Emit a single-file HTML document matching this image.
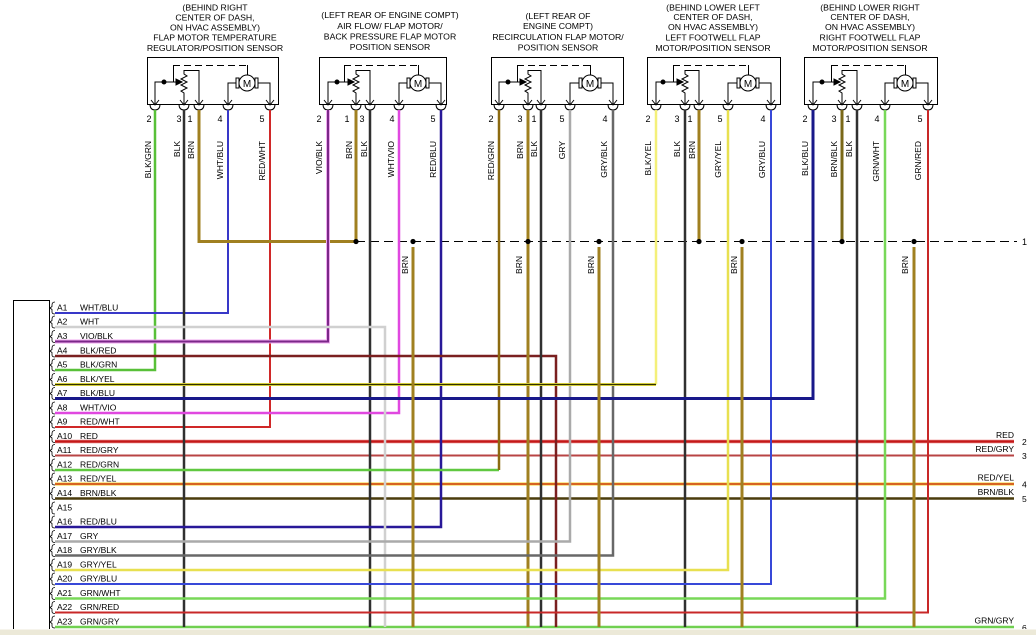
<!DOCTYPE html>
<html><head><meta charset="utf-8"><style>
html,body{margin:0;padding:0;background:#fff;}
svg{display:block;}
text{font-family:"Liberation Sans",sans-serif;fill:#000;}
</style></head><body>
<svg width="1036" height="635" viewBox="0 0 1036 635" xmlns="http://www.w3.org/2000/svg">
<rect width="1036" height="635" fill="#fff"/>
<defs>
<g id="pc" fill="none" stroke="#000" stroke-width="1"><path d="M-4,100 L0,105 L4,100 M-5,104 Q-5,110 0,110 Q5,110 5,104"/></g>
<path id="br" d="M4,-11 Q1,-11 1,-8 L1,-6.5 L-1,-5 L1,-3.5 L1,-1 Q1,1 4,1" fill="none" stroke="#000" stroke-width="0.8"/>
</defs>

<!-- Headers -->
<g font-size="8.7" text-anchor="middle">
<text x="215" y="10.5">(BEHIND RIGHT</text>
<text x="215" y="20.5">CENTER OF DASH,</text>
<text x="215" y="30.5">ON HVAC ASSEMBLY)</text>
<text x="215" y="40.5">FLAP MOTOR TEMPERATURE</text>
<text x="215" y="51">REGULATOR/POSITION SENSOR</text>

<text x="390" y="18">(LEFT REAR OF ENGINE COMPT)</text>
<text x="390" y="29">AIR FLOW/ FLAP MOTOR/</text>
<text x="390" y="39.5">BACK PRESSURE FLAP MOTOR</text>
<text x="390" y="50">POSITION SENSOR</text>

<text x="558" y="19">(LEFT REAR OF</text>
<text x="558" y="29">ENGINE COMPT)</text>
<text x="558" y="40">RECIRCULATION FLAP MOTOR/</text>
<text x="558" y="50.5">POSITION SENSOR</text>

<text x="713" y="10.5">(BEHIND LOWER LEFT</text>
<text x="713" y="20">CENTER OF DASH,</text>
<text x="713" y="30">ON HVAC ASSEMBLY)</text>
<text x="713" y="40.5">LEFT FOOTWELL FLAP</text>
<text x="713" y="51">MOTOR/POSITION SENSOR</text>

<text x="870" y="10.5">(BEHIND LOWER RIGHT</text>
<text x="870" y="20">CENTER OF DASH,</text>
<text x="870" y="30">ON HVAC ASSEMBLY)</text>
<text x="870" y="40.5">RIGHT FOOTWELL FLAP</text>
<text x="870" y="51">MOTOR/POSITION SENSOR</text>
</g>

<!-- Component boxes -->
<g fill="none" stroke="#000" stroke-width="1">
<!-- comp1 -->
<rect x="147.5" y="57.5" width="131" height="47"/>
<line x1="173" y1="65.5" x2="247" y2="65.5" stroke-dasharray="7,4"/>
<path d="M173.5,65V82 M247.5,65V75"/>
<polyline points="184,104 184,93 181,91 187,88 181,85 187,82 181,79 187,76 184,74 184,70.5 199,70.5 199,104"/>
<polyline points="155,104 155,82 177,82"/>
<polygon points="182,82 176,79 176,85" fill="#000"/>
<circle cx="164" cy="82" r="2" fill="#000"/>
<polyline points="237,83 228,83 228,104"/>
<polyline points="257,83 270,83 270,104"/>
<rect x="236" y="78" width="3" height="10" fill="#fff"/>
<rect x="255" y="78" width="3" height="10" fill="#fff"/>
<circle cx="247" cy="83" r="8" fill="#fff"/>

<!-- comp2 -->
<rect x="319.5" y="57.5" width="127" height="47"/>
<line x1="344" y1="65.5" x2="418" y2="65.5" stroke-dasharray="7,4"/>
<path d="M344.5,65V82 M418.5,65V75"/>
<polyline points="356,104 356,93 353,91 359,88 353,85 359,82 353,79 359,76 356,74 356,70.5 370,70.5 370,104"/>
<polyline points="328,104 328,82 349,82"/>
<polygon points="354,82 348,79 348,85" fill="#000"/>
<circle cx="337" cy="82" r="2" fill="#000"/>
<polyline points="408,83 399,83 399,104"/>
<polyline points="428,83 441,83 441,104"/>
<rect x="407" y="78" width="3" height="10" fill="#fff"/>
<rect x="426" y="78" width="3" height="10" fill="#fff"/>
<circle cx="418" cy="83" r="8" fill="#fff"/>

<!-- comp3 -->
<rect x="491.5" y="57.5" width="132" height="47"/>
<line x1="517" y1="65.5" x2="590" y2="65.5" stroke-dasharray="7,4"/>
<path d="M517.5,65V82 M590.5,65V75"/>
<polyline points="528,104 528,93 525,91 531,88 525,85 531,82 525,79 531,76 528,74 528,70.5 541,70.5 541,104"/>
<polyline points="499,104 499,82 521,82"/>
<polygon points="526,82 520,79 520,85" fill="#000"/>
<circle cx="508" cy="82" r="2" fill="#000"/>
<polyline points="580,83 570,83 570,104"/>
<polyline points="600,83 613,83 613,104"/>
<rect x="579" y="78" width="3" height="10" fill="#fff"/>
<rect x="598" y="78" width="3" height="10" fill="#fff"/>
<circle cx="590" cy="83" r="8" fill="#fff"/>

<!-- comp4 -->
<rect x="647.5" y="57.5" width="133" height="47"/>
<line x1="673" y1="65.5" x2="748" y2="65.5" stroke-dasharray="7,4"/>
<path d="M673.5,65V82 M748.5,65V75"/>
<polyline points="685,104 685,93 682,91 688,88 682,85 688,82 682,79 688,76 685,74 685,70.5 699,70.5 699,104"/>
<polyline points="656,104 656,82 678,82"/>
<polygon points="683,82 677,79 677,85" fill="#000"/>
<circle cx="663" cy="82" r="2" fill="#000"/>
<polyline points="738,83 728,83 728,104"/>
<polyline points="758,83 771,83 771,104"/>
<rect x="737" y="78" width="3" height="10" fill="#fff"/>
<rect x="756" y="78" width="3" height="10" fill="#fff"/>
<circle cx="748" cy="83" r="8" fill="#fff"/>

<!-- comp5 -->
<rect x="804.5" y="57.5" width="133" height="47"/>
<line x1="831" y1="65.5" x2="905" y2="65.5" stroke-dasharray="7,4"/>
<path d="M831.5,65V82 M905.5,65V75"/>
<polyline points="842,104 842,93 839,91 845,88 839,85 845,82 839,79 845,76 842,74 842,70.5 857,70.5 857,104"/>
<polyline points="813,104 813,82 835,82"/>
<polygon points="840,82 834,79 834,85" fill="#000"/>
<circle cx="822" cy="82" r="2" fill="#000"/>
<polyline points="895,83 885,83 885,104"/>
<polyline points="915,83 928,83 928,104"/>
<rect x="894" y="78" width="3" height="10" fill="#fff"/>
<rect x="913" y="78" width="3" height="10" fill="#fff"/>
<circle cx="905" cy="83" r="8" fill="#fff"/>
</g>
<g font-size="10" text-anchor="middle">
<text x="247" y="87">M</text>
<text x="418" y="87">M</text>
<text x="590" y="87">M</text>
<text x="748" y="87">M</text>
<text x="905" y="87">M</text>
</g>

<!-- pin connectors -->
<use href="#pc" x="155"/><use href="#pc" x="184"/><use href="#pc" x="199"/><use href="#pc" x="228"/><use href="#pc" x="270"/>
<use href="#pc" x="328"/><use href="#pc" x="356"/><use href="#pc" x="370"/><use href="#pc" x="399"/><use href="#pc" x="441"/>
<use href="#pc" x="499"/><use href="#pc" x="528"/><use href="#pc" x="541"/><use href="#pc" x="570"/><use href="#pc" x="613"/>
<use href="#pc" x="656"/><use href="#pc" x="685"/><use href="#pc" x="699"/><use href="#pc" x="728"/><use href="#pc" x="771"/>
<use href="#pc" x="813"/><use href="#pc" x="842"/><use href="#pc" x="857"/><use href="#pc" x="885"/><use href="#pc" x="928"/>

<!-- pin numbers -->
<g font-size="9" text-anchor="middle">
<text x="149" y="122">2</text><text x="179" y="122">3</text><text x="190" y="122">1</text><text x="220" y="122">4</text><text x="262" y="122">5</text>
<text x="319" y="122">2</text><text x="347" y="122">1</text><text x="362" y="122">3</text><text x="392" y="122">4</text><text x="433" y="122">5</text>
<text x="491" y="122">2</text><text x="520" y="122">3</text><text x="534" y="122">1</text><text x="562" y="122">5</text><text x="605" y="122">4</text>
<text x="648" y="122">2</text><text x="677" y="122">3</text><text x="690" y="122">1</text><text x="720" y="122">5</text><text x="763" y="122">4</text>
<text x="805" y="122">2</text><text x="834" y="122">3</text><text x="848" y="122">1</text><text x="877" y="122">4</text><text x="920" y="122">5</text>
</g>

<!-- vertical wire labels -->
<g font-size="8.5" text-anchor="end">
<text transform="translate(151,141) rotate(-90)">BLK/GRN</text>
<text transform="translate(180,141) rotate(-90)">BLK</text>
<text transform="translate(194,141) rotate(-90)">BRN</text>
<text transform="translate(223,141) rotate(-90)">WHT/BLU</text>
<text transform="translate(265,141) rotate(-90)">RED/WHT</text>
<text transform="translate(322,141) rotate(-90)">VIO/BLK</text>
<text transform="translate(352,141) rotate(-90)">BRN</text>
<text transform="translate(367,141) rotate(-90)">BLK</text>
<text transform="translate(394,141) rotate(-90)">WHT/VIO</text>
<text transform="translate(436,141) rotate(-90)">RED/BLU</text>
<text transform="translate(494,141) rotate(-90)">RED/GRN</text>
<text transform="translate(523,141) rotate(-90)">BRN</text>
<text transform="translate(537,141) rotate(-90)">BLK</text>
<text transform="translate(565,141) rotate(-90)">GRY</text>
<text transform="translate(607,141) rotate(-90)">GRY/BLK</text>
<text transform="translate(651,141) rotate(-90)">BLK/YEL</text>
<text transform="translate(680,141) rotate(-90)">BLK</text>
<text transform="translate(695,141) rotate(-90)">BRN</text>
<text transform="translate(721,141) rotate(-90)">GRY/YEL</text>
<text transform="translate(765,141) rotate(-90)">GRY/BLU</text>
<text transform="translate(808,141) rotate(-90)">BLK/BLU</text>
<text transform="translate(837,141) rotate(-90)">BRN/BLK</text>
<text transform="translate(852,141) rotate(-90)">BLK</text>
<text transform="translate(879,141) rotate(-90)">GRN/WHT</text>
<text transform="translate(921,141) rotate(-90)">GRN/RED</text>
<text transform="translate(408,256) rotate(-90)">BRN</text>
<text transform="translate(522,256) rotate(-90)">BRN</text>
<text transform="translate(594,256) rotate(-90)">BRN</text>
<text transform="translate(737,256) rotate(-90)">BRN</text>
<text transform="translate(908,256) rotate(-90)">BRN</text>
</g>

<!-- splice dashed line -->
<line x1="356" y1="241.5" x2="1017" y2="241.5" stroke="#000" stroke-width="1" stroke-dasharray="9,5"/>
<text x="1022" y="245" font-size="9">1</text>

<!-- wires -->
<g fill="none" stroke-width="2.5" stroke-linejoin="miter">
<!-- horizontals through -->
<polyline points="55,441.5 1014,441.5" stroke="#f4b8b8" stroke-width="4"/>
<polyline points="55,441.5 1014,441.5" stroke="#c41818" stroke-width="2.5"/>
<polyline points="55,455.5 1014,455.5" stroke="#b84444" stroke-width="2"/>
<polyline points="55,484 1014,484" stroke="#f8e070" stroke-width="3.5"/>
<polyline points="55,484 1014,484" stroke="#cc3a08" stroke-width="1.6"/>
<polyline points="55,498.5 1014,498.5" stroke="#4a3c0c" stroke-width="2.5"/>
<polyline points="55,627 1014,627" stroke="#70d050" stroke-width="2.5"/>

<!-- comp1 -->
<polyline points="155,110 155,370 55,370" stroke="#58c038"/>
<polyline points="228,110 228,313 55,313" stroke="#3838c8" stroke-width="2"/>
<polyline points="270,110 270,427 55,427" stroke="#d02828" stroke-width="2"/>
<polyline points="184,110 184,627" stroke="#303030"/>
<polyline points="199,110 199,241.5 356,241.5" stroke="#a08020" stroke-width="3"/>
<!-- comp2 -->
<polyline points="328,110 328,341.5 55,341.5" stroke="#f0a8f0" stroke-width="4"/>
<polyline points="328,110 328,341.5 55,341.5" stroke="#7a2888" stroke-width="2"/>
<polyline points="356,110 356,241.5" stroke="#a08020" stroke-width="3"/>
<polyline points="370,110 370,627" stroke="#303030"/>
<polyline points="399,110 399,413 55,413" stroke="#e048e0"/>
<polyline points="441,110 441,527 55,527" stroke="#281898"/>
<!-- WHT -->
<polyline points="55,327 385,327 385,627" stroke="#d0d0d0"/>
<!-- BLK/RED -->
<polyline points="55,356 556,356 556,627" stroke="#7a2020"/>
<!-- comp3 -->
<polyline points="499,470 55,470" stroke="#60c840"/>
<polyline points="499,110 499,470" stroke="#8c6a10"/>
<polyline points="528,110 528,627" stroke="#a08020" stroke-width="3"/>
<polyline points="541,110 541,627" stroke="#303030"/>
<polyline points="570,110 570,541.5 55,541.5" stroke="#aaaaaa"/>
<polyline points="613,110 613,555.5 55,555.5" stroke="#686868"/>
<!-- comp4 -->
<polyline points="656,110 656,384.5" stroke="#f4f07a"/>
<polyline points="656,384.5 55,384.5" stroke="#e8e040" stroke-width="3"/>
<polyline points="656,384.5 55,384.5" stroke="#303000" stroke-width="1.2"/>
<polyline points="685,110 685,627" stroke="#303030"/>
<polyline points="699,110 699,241.5" stroke="#a08020" stroke-width="3"/>
<polyline points="728,110 728,570 55,570" stroke="#e8e050"/>
<polyline points="771,110 771,584 55,584" stroke="#3848d8" stroke-width="2"/>
<!-- comp5 -->
<polyline points="813,110 813,398.5 55,398.5" stroke="#18188a" stroke-width="3"/>
<polyline points="842,110 842,241.5" stroke="#7a6818" stroke-width="3"/>
<polyline points="857,110 857,627" stroke="#303030"/>
<polyline points="885,110 885,598.5 55,598.5" stroke="#78d858"/>
<polyline points="928,110 928,612.5 55,612.5" stroke="#c82828" stroke-width="2"/>
<!-- splice drops -->
<polyline points="413,247 413,627" stroke="#a08020" stroke-width="3"/>
<polyline points="599,247 599,627" stroke="#a08020" stroke-width="3"/>
<polyline points="742,247 742,627" stroke="#a08020" stroke-width="3"/>
<polyline points="914,247 914,627" stroke="#a08020" stroke-width="3"/>
</g>

<!-- splice dots -->
<g fill="#000">
<circle cx="356" cy="241.5" r="2.6"/>
<circle cx="413" cy="241.5" r="2.6"/>
<circle cx="528" cy="241.5" r="2.6"/>
<circle cx="599" cy="241.5" r="2.6"/>
<circle cx="699" cy="241.5" r="2.6"/>
<circle cx="742" cy="241.5" r="2.6"/>
<circle cx="842" cy="241.5" r="2.6"/>
<circle cx="914" cy="241.5" r="2.6"/>
</g>

<!-- left connector -->
<rect x="13.5" y="300.5" width="36" height="340" fill="none" stroke="#000" stroke-width="1"/>
<g transform="translate(51,0)">
<use href="#br" y="313"/><use href="#br" y="327"/><use href="#br" y="341.5"/><use href="#br" y="356"/><use href="#br" y="370"/>
<use href="#br" y="384.5"/><use href="#br" y="398.5"/><use href="#br" y="413"/><use href="#br" y="427"/><use href="#br" y="441.5"/>
<use href="#br" y="455.5"/><use href="#br" y="470"/><use href="#br" y="484"/><use href="#br" y="498.5"/><use href="#br" y="513"/>
<use href="#br" y="527"/><use href="#br" y="541.5"/><use href="#br" y="555.5"/><use href="#br" y="570"/><use href="#br" y="584"/>
<use href="#br" y="598.5"/><use href="#br" y="612.5"/><use href="#br" y="627"/>
</g>
<g font-size="8.5">
<text x="57" y="310.5">A1</text><text x="80" y="310.5">WHT/BLU</text>
<text x="57" y="324.5">A2</text><text x="80" y="324.5">WHT</text>
<text x="57" y="339">A3</text><text x="80" y="339">VIO/BLK</text>
<text x="57" y="353.5">A4</text><text x="80" y="353.5">BLK/RED</text>
<text x="57" y="367.5">A5</text><text x="80" y="367.5">BLK/GRN</text>
<text x="57" y="382">A6</text><text x="80" y="382">BLK/YEL</text>
<text x="57" y="396">A7</text><text x="80" y="396">BLK/BLU</text>
<text x="57" y="410.5">A8</text><text x="80" y="410.5">WHT/VIO</text>
<text x="57" y="424.5">A9</text><text x="80" y="424.5">RED/WHT</text>
<text x="57" y="439">A10</text><text x="80" y="439">RED</text>
<text x="57" y="453">A11</text><text x="80" y="453">RED/GRY</text>
<text x="57" y="467.5">A12</text><text x="80" y="467.5">RED/GRN</text>
<text x="57" y="481.5">A13</text><text x="80" y="481.5">RED/YEL</text>
<text x="57" y="496">A14</text><text x="80" y="496">BRN/BLK</text>
<text x="57" y="510.5">A15</text>
<text x="57" y="524.5">A16</text><text x="80" y="524.5">RED/BLU</text>
<text x="57" y="539">A17</text><text x="80" y="539">GRY</text>
<text x="57" y="553">A18</text><text x="80" y="553">GRY/BLK</text>
<text x="57" y="567.5">A19</text><text x="80" y="567.5">GRY/YEL</text>
<text x="57" y="581.5">A20</text><text x="80" y="581.5">GRY/BLU</text>
<text x="57" y="596">A21</text><text x="80" y="596">GRN/WHT</text>
<text x="57" y="610">A22</text><text x="80" y="610">GRN/RED</text>
<text x="57" y="624.5">A23</text><text x="80" y="624.5">GRN/GRY</text>
</g>

<!-- right labels -->
<g font-size="8.5">
<text x="1014" y="438" text-anchor="end">RED</text><text x="1022" y="445">2</text>
<text x="1014" y="452" text-anchor="end">RED/GRY</text><text x="1022" y="459">3</text>
<text x="1014" y="480.5" text-anchor="end">RED/YEL</text><text x="1022" y="487.5">4</text>
<text x="1014" y="495" text-anchor="end">BRN/BLK</text><text x="1022" y="502">5</text>
<text x="1014" y="623.5" text-anchor="end">GRN/GRY</text><text x="1022" y="631">6</text>
</g>

<!-- bottom strip -->
<rect x="0" y="629" width="1036" height="6" fill="#ece9d8"/>
<line x1="0" y1="629.5" x2="1036" y2="629.5" stroke="#f6f4ec" stroke-width="1"/>
</svg>
</body></html>
